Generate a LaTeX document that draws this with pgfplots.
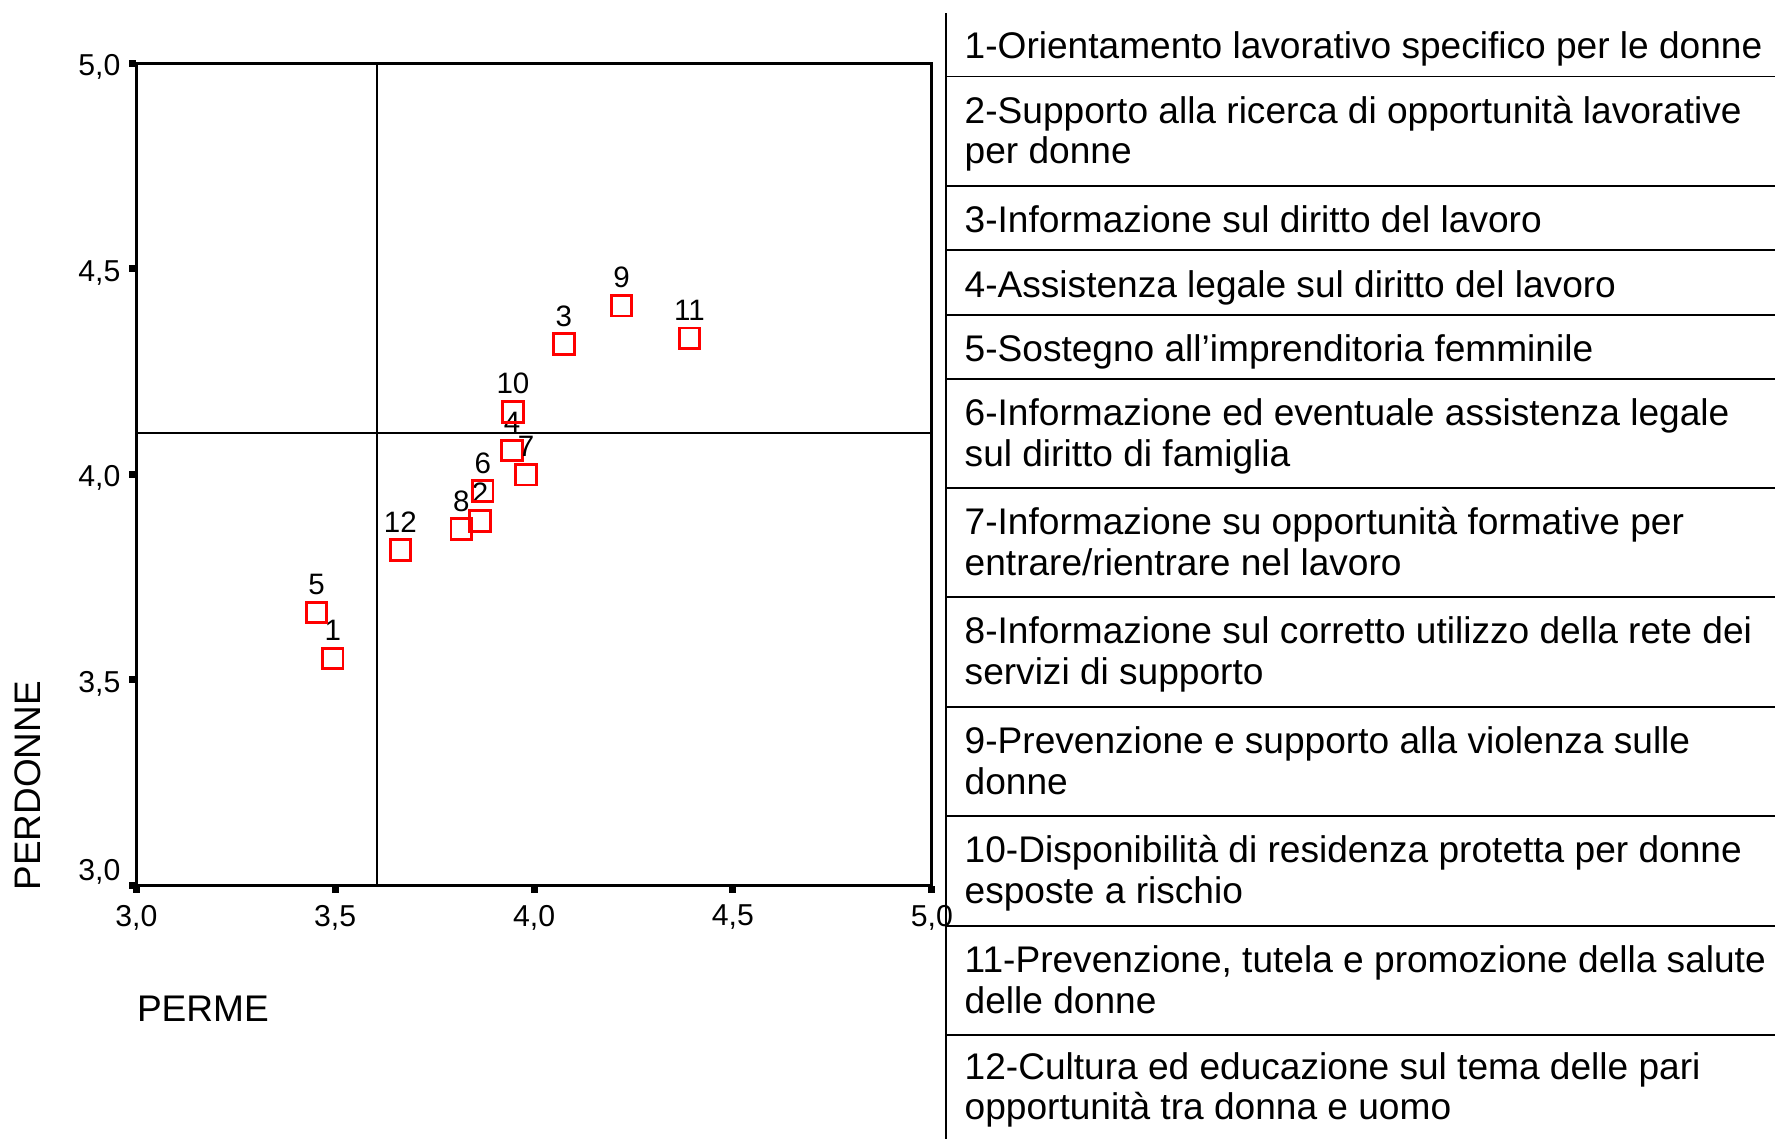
\documentclass[border=0pt]{standalone}
\usepackage{pgfplots}
\pgfplotsset{compat=1.18}
\usepackage{fontspec}
\setmainfont{Liberation Sans}
\newcommand{\legfont}{\fontsize{10.55}{12.2}\selectfont}
\begin{document}
\begin{tikzpicture}
\path[use as bounding box] (0,0) rectangle (177.5mm,-113.9mm);
\begin{axis}[
  at={(13.63mm,-88.55mm)}, anchor=south west,
  scale only axis, width=79.55mm, height=82.24mm,
  xmin=3, xmax=5, ymin=3, ymax=5,
  xtick={3,3.5,4,4.5,5},
  ytick={3.5,4,4.5,5},
  extra y ticks={3},
  extra y tick style={yticklabel style={yshift=1.8mm}},
  xtick pos=left, ytick pos=left,
  tick align=outside,
  major tick length=0.7mm,
  every tick/.style={black, line width=2pt},
  axis line style={line width=0.8pt},
  tick label style={font=\fontsize{8.6}{10}\selectfont},
  xticklabel style={yshift=0mm},
  yticklabel style={xshift=0.35mm, yshift=-0.4mm},
  /pgf/number format/.cd, use comma, fixed, fixed zerofill, precision=1, assume math mode=true,
  /pgfplots/.cd,
  xlabel={PERME}, ylabel={PERDONNE},
  xlabel style={at={(axis description cs:0,-0.1656)}, anchor=base west, inner sep=0pt, font=\legfont},
  ylabel style={at={(axis description cs:-0.1207,-0.0067)}, rotate=0, anchor=base west, inner sep=0pt, font=\fontsize{10.5}{12}\selectfont},
]
\draw[line width=0.55pt] (axis cs:3.605,3) -- (axis cs:3.605,5);
\draw[line width=0.55pt] (axis cs:3,4.10) -- (axis cs:5,4.10);
\addplot[only marks, mark=square, mark size=1.03mm, red,
  mark options={line width=0.8pt, draw=red, fill=none},
  nodes near coords, point meta=explicit symbolic,
  nodes near coords style={font=\fontsize{8.4}{10}\selectfont, text=black, anchor=center, yshift=2.8mm, inner sep=0pt}]
  table[meta=label] {
x y label
3.494 3.552 1
3.864 3.886 2
4.075 4.317 3
3.945 4.058 4
3.453 3.664 5
3.871 3.959 6
3.980 3.999 7
3.817 3.867 8
4.220 4.410 9
3.947 4.152 10
4.391 4.331 11
3.664 3.816 12
};
\end{axis}
% table on the right
\draw[line width=0.6pt] (94.6mm,-1.3mm) -- (94.6mm,-113.9mm);
\foreach \yy in {76.6,185.7,250.2,314.8,378.8,488.3,596.9,707,815.9,925.6,1035.3}{
  \draw[line width=0.5pt] (94.6mm,-\yy*0.1mm) -- (177.5mm,-\yy*0.1mm);
}
\begin{scope}[every node/.style={anchor=base west, inner sep=0pt, font=\legfont}]
\node at (96.4mm,-5.83mm) {1-Orientamento lavorativo specifico per le donne};
\node at (96.4mm,-12.305mm) {2-Supporto alla ricerca di opportunità lavorative};
\node at (96.4mm,-16.375mm) {per donne};
\node at (96.4mm,-23.245mm) {3-Informazione sul diritto del lavoro};
\node at (96.4mm,-29.7mm) {4-Assistenza legale sul diritto del lavoro};
\node at (96.4mm,-36.13mm) {5-Sostegno all’imprenditoria femminile};
\node at (96.4mm,-42.545mm) {6-Informazione ed eventuale assistenza legale};
\node at (96.4mm,-46.615mm) {sul diritto di famiglia};
\node at (96.4mm,-53.45mm) {7-Informazione su opportunità formative per};
\node at (96.4mm,-57.52mm) {entrare/rientrare nel lavoro};
\node at (96.4mm,-64.385mm) {8-Informazione sul corretto utilizzo della rete dei};
\node at (96.4mm,-68.455mm) {servizi di supporto};
\node at (96.4mm,-75.335mm) {9-Prevenzione e supporto alla violenza sulle};
\node at (96.4mm,-79.405mm) {donne};
\node at (96.4mm,-86.265mm) {10-Disponibilità di residenza protetta per donne};
\node at (96.4mm,-90.335mm) {esposte a rischio};
\node at (96.4mm,-97.235mm) {11-Prevenzione, tutela e promozione della salute};
\node at (96.4mm,-101.305mm) {delle donne};
\node at (96.4mm,-107.905mm) {12-Cultura ed educazione sul tema delle pari};
\node at (96.4mm,-111.975mm) {opportunità tra donna e uomo};
\end{scope}
\end{tikzpicture}
\end{document}
